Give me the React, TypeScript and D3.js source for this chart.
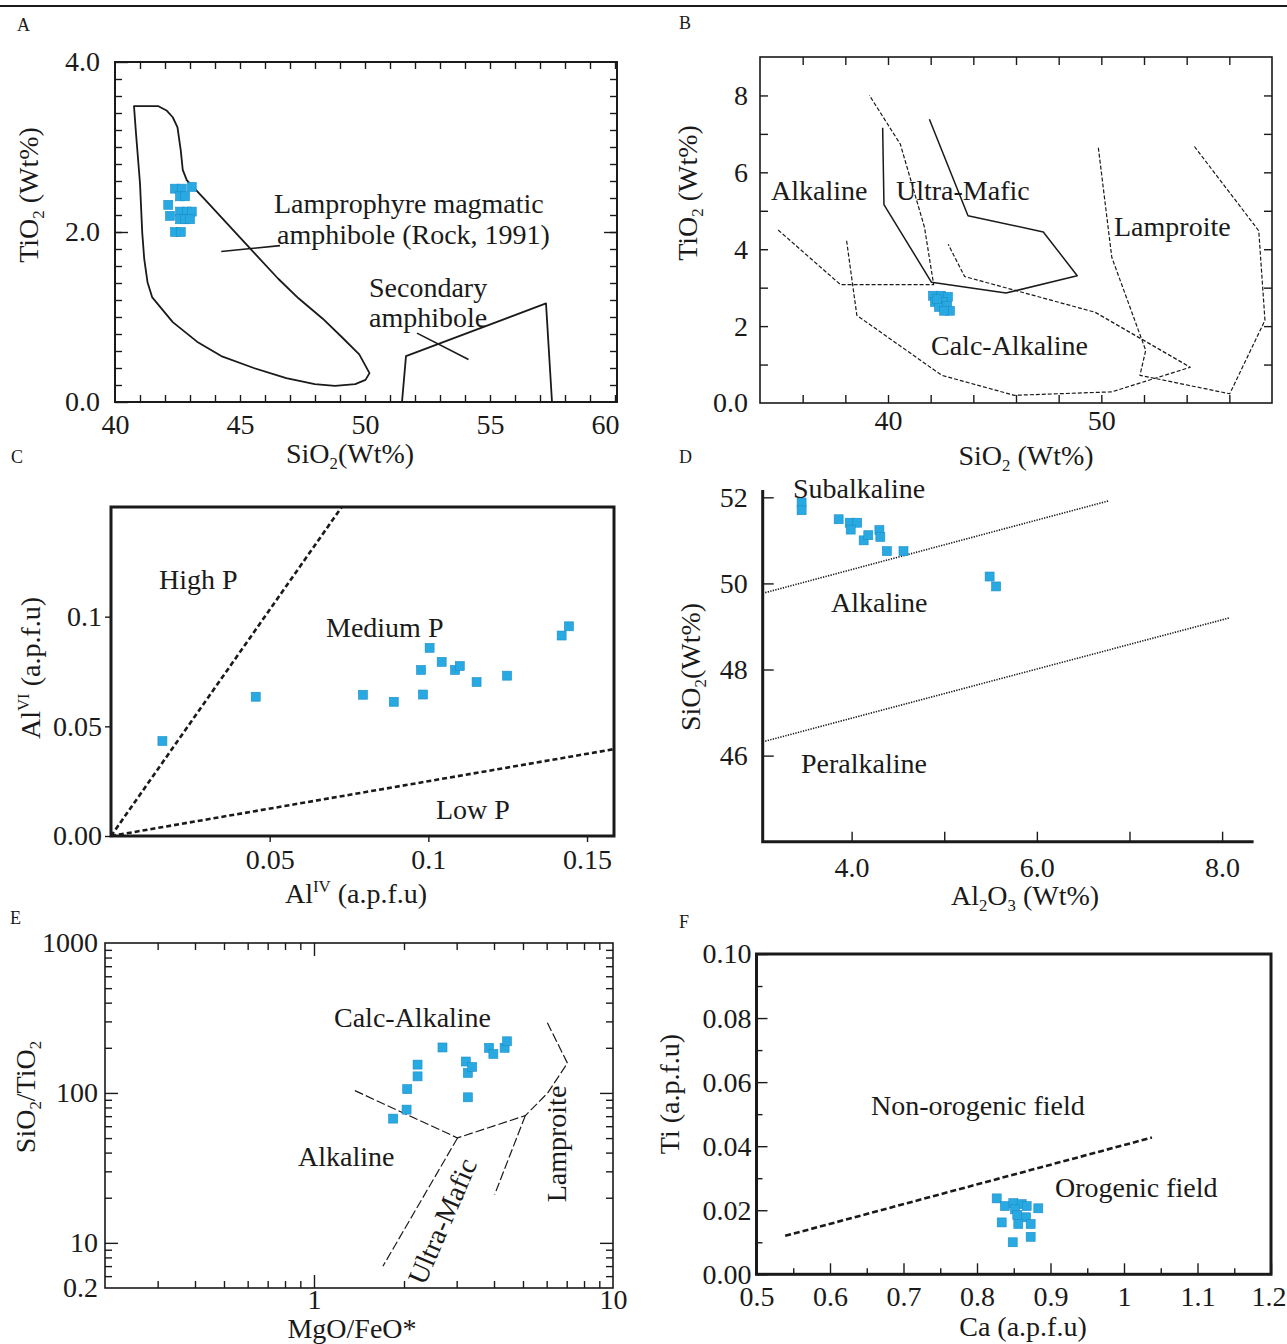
import React, { useEffect, useRef } from 'react';
import * as d3 from 'd3';

const FONT = '"Liberation Serif", "Times New Roman", Times, serif';
const INK = '#1a1a1a';
const BLUE = '#29a9e1';
const FS = 28;

// A: TiO2 vs SiO2
const aSiO2 = [42.4, 42.67, 43.07, 42.6, 42.8, 42.13, 42.2, 42.6, 42.87, 43.07, 42.6, 42.8, 43.0, 42.4, 42.63];
const aTiO2 = [2.51, 2.51, 2.53, 2.42, 2.42, 2.32, 2.19, 2.24, 2.24, 2.24, 2.15, 2.15, 2.15, 2.0, 2.0];
const aLamprophyreField = [
  [40.76, 3.48], [41.74, 3.48], [42.06, 3.43], [42.31, 3.35], [42.5, 3.23], [42.63, 2.96], [42.71, 2.73],
  [42.87, 2.61], [43.6, 2.38], [44.58, 2.07], [45.55, 1.76], [46.53, 1.45], [47.34, 1.22], [48.31, 0.98],
  [49.12, 0.75], [49.77, 0.56], [50.18, 0.34], [50.02, 0.26], [49.61, 0.21], [48.8, 0.19], [47.99, 0.21],
  [46.85, 0.28], [45.55, 0.4], [44.25, 0.54], [43.28, 0.71], [42.31, 0.94], [41.49, 1.23], [41.3, 1.41],
  [41.17, 1.68], [41.09, 1.99], [41.0, 2.57], [40.84, 3.16],
];
const aSecondaryField = [[51.48, 0], [51.64, 0.54], [57.24, 1.16], [57.48, 0]];
const aLamprophyreLeader = [[44.25, 1.77], [46.6, 1.84]];
const aSecondaryLeader = [[52.08, 0.81], [54.14, 0.5]];
const aXTicks = [40, 45, 50, 55, 60];
const aYTicks = [0, 2, 4];
const aYLabels = ['0.0', '2.0', '4.0'];

// B: TiO2 vs SiO2 lamprophyre type fields
const bSiO2 = [42.11, 42.49, 42.81, 42.2, 42.58, 42.39, 42.77, 42.9, 42.63, 42.3];
const bTiO2 = [2.79, 2.79, 2.76, 2.63, 2.63, 2.5, 2.53, 2.4, 2.4, 2.7];
const bUltraMafic = [[39.75, 7.16], [39.81, 5.16], [42.04, 3.14], [45.53, 2.86], [48.87, 3.31], [47.28, 4.45], [43.75, 4.87], [41.94, 7.38]];
const bAlkaline = [[34.85, 4.5], [37.77, 3.08], [42.14, 3.08], [41.71, 4.57], [40.58, 6.73], [39.13, 8.0]];
const bCalcAlkaline = [[38.06, 4.22], [38.54, 2.28], [42.52, 0.72], [45.92, 0.2], [50.49, 0.29], [54.17, 0.93], [49.71, 2.36], [43.59, 3.29], [42.82, 4.13]];
const bLamproite = [[49.86, 6.64], [50.49, 3.79], [52.08, 1.37], [51.81, 0.72], [56.02, 0.24], [57.67, 2.15], [57.38, 4.48], [54.31, 6.71]];
const bXTicks = [40, 50];
const bYTicks = [0, 2, 4, 6, 8];
const bYLabels = ['0.0', '2', '4', '6', '8'];

// C: AlVI vs AlIV
const cAlIV = [0.0162, 0.0456, 0.0794, 0.0891, 0.0977, 0.0983, 0.1004, 0.1042, 0.1084, 0.1099, 0.1152, 0.1248, 0.142, 0.1443];
const cAlVI = [0.0433, 0.0635, 0.0644, 0.0612, 0.0757, 0.0645, 0.0858, 0.0794, 0.0757, 0.0775, 0.0702, 0.0731, 0.0914, 0.0956];
const cHighMedium = [[0, 0], [0.0727, 0.15]];
const cMediumLow = [[0, 0], [0.1585, 0.0396]];
const cXTicks = [0.05, 0.1, 0.15];
const cXLabels = ['0.05', '0.1', '0.15'];
const cYTicks = [0, 0.05, 0.1];
const cYLabels = ['0.00', '0.05', '0.1'];

// D: SiO2 vs Al2O3
const dAl2O3 = [3.46, 3.46, 3.86, 3.98, 4.06, 3.99, 4.13, 4.18, 4.3, 4.31, 4.38, 4.56, 5.49, 5.56];
const dSiO2 = [51.88, 51.7, 51.49, 51.41, 51.41, 51.25, 51.0, 51.12, 51.24, 51.08, 50.75, 50.75, 50.16, 49.93];
const dSubalkaline = [[3.04, 49.77], [6.78, 51.92]];
const dPeralkaline = [[3.04, 46.32], [8.08, 49.2]];
const dXTicks = [4, 5, 6, 7, 8];
const dXLabelTicks = [4, 6, 8];
const dXLabels = ['4.0', '6.0', '8.0'];
const dYTicks = [46, 48, 50, 52];

// E: SiO2/TiO2 vs MgO/FeO*
const eMgOFeO = [1.84, 2.04, 2.05, 2.22, 2.22, 2.69, 3.22, 3.27, 3.38, 3.27, 3.85, 3.98, 4.34, 4.42];
const eSiO2TiO2 = [67.4, 77.4, 106, 129, 154.5, 201, 162, 136, 149, 93.5, 200, 182, 200, 221];
const eCalcAlkaline = [[1.37, 103.6], [3.02, 50.1], [5.09, 70.6], [6.05, 100], [7.04, 158], [6.02, 296]];
const eUltraLeft = [[3.02, 50.1], [1.7, 6.98]];
const eUltraRight = [[5.09, 70.6], [4.02, 21.0]];
const eYTicks = [5, 10, 100, 1000];
const eYLabels = ['0.2', '10', '100', '1000'];
const eXTicks = [1, 10];
const eXLabels = ['1', '10'];

// F: Ti vs Ca
const fCa = [0.8268, 0.838, 0.8494, 0.8608, 0.8676, 0.8517, 0.8834, 0.8336, 0.8548, 0.8667, 0.8562, 0.873, 0.873, 0.8486];
const fTi = [0.0237, 0.0213, 0.0222, 0.0219, 0.0213, 0.0203, 0.0206, 0.0162, 0.0185, 0.0178, 0.0157, 0.0157, 0.0117, 0.01];
const fBoundary = [[0.539, 0.012], [1.038, 0.0427]];
const fXTicks = [0.5, 0.6, 0.7, 0.8, 0.9, 1, 1.1, 1.2];
const fXLabels = ['0.5', '0.6', '0.7', '0.8', '0.9', '1', '1.1', '1.2'];
const fXMinor = [0.55, 0.65, 0.75, 0.85, 0.95, 1.05, 1.15];
const fYTicks = [0, 0.02, 0.04, 0.06, 0.08, 0.1];
const fYLabels = ['0.00', '0.02', '0.04', '0.06', '0.08', '0.10'];
const fYMinor = [0.01, 0.03, 0.05, 0.07, 0.09];

const logMinor = (lo: number, hi: number) => {
  const out: number[] = [];
  for (let p = -1; p <= 3; p++) for (let m = 2; m <= 9; m++) {
    const v = m * Math.pow(10, p);
    if (v > lo * 1.01 && v < hi * 0.99) out.push(v);
  }
  return out;
};

function addAxis(parent: any, gen: any, x: number, y: number) {
  const a = parent.append('g').attr('transform', `translate(${x},${y})`).call(gen);
  a.select('.domain').remove();
  a.attr('font-family', FONT).attr('font-size', FS);
  a.selectAll('line').attr('stroke', INK).attr('stroke-width', 1.4);
  a.selectAll('text').attr('fill', INK);
  return a;
}

function rich(parent: any, x: number, y: number, parts: any[], opt: any = {}) {
  const size = opt.size || FS;
  const t = parent.append('text')
    .attr('transform', `translate(${x},${y}) rotate(${opt.rotate || 0})`)
    .attr('text-anchor', opt.anchor || 'middle')
    .attr('font-family', FONT).attr('font-size', size).attr('fill', INK)
    .style('white-space', 'pre');
  if (opt.dy) t.attr('dy', opt.dy);
  let shift = 0;
  parts.forEach((p) => {
    const [s, kind] = typeof p === 'string' ? [p, ''] : p;
    const target = kind === 'sub' ? size * 0.22 : kind === 'sup' ? -size * 0.4 : 0;
    const ts = t.append('tspan').attr('dy', target - shift).text(s);
    if (kind) ts.attr('font-size', size * 0.6);
    shift = target;
  });
  return t;
}

function squares(parent: any, xs: number[], ys: number[], sx: any, sy: any, size = 9) {
  parent.append('g').selectAll('rect')
    .data(xs.map((x, i) => [x, ys[i]]))
    .join('rect')
    .attr('x', (d: number[]) => sx(d[0]) - size / 2)
    .attr('y', (d: number[]) => sy(d[1]) - size / 2)
    .attr('width', size).attr('height', size)
    .attr('fill', BLUE).attr('stroke', '#1c8ec8').attr('stroke-width', 0.6);
}

function path(parent: any, pts: number[][], sx: any, sy: any, width: number, dash: string | null, closed = false) {
  const line = d3.line<number[]>().x((d) => sx(d[0])).y((d) => sy(d[1]));
  const p = parent.append('path')
    .attr('d', line(pts) + (closed ? 'Z' : ''))
    .attr('fill', 'none').attr('stroke', INK).attr('stroke-width', width)
    .attr('stroke-linejoin', 'round');
  if (dash) p.attr('stroke-dasharray', dash);
}

function box(parent: any, sx: any, sy: any, width: number) {
  const [x0, x1] = sx.range();
  const [y0, y1] = sy.range();
  parent.append('rect')
    .attr('x', x0).attr('y', y1).attr('width', x1 - x0).attr('height', y0 - y1)
    .attr('fill', 'none').attr('stroke', INK).attr('stroke-width', width);
}

function panelLetter(parent: any, x: number, y: number, s: string) {
  parent.append('text').attr('x', x).attr('y', y).attr('font-family', FONT)
    .attr('font-size', 18).attr('fill', INK).text(s);
}

export default function App() {
  const ref = useRef<SVGSVGElement>(null);

  useEffect(() => {
    const svg = d3.select(ref.current);
    svg.selectAll('*').remove();
    svg.append('rect').attr('width', 1287).attr('height', 1344).attr('fill', '#fff');
    svg.append('line').attr('x1', 0).attr('x2', 1287).attr('y1', 6).attr('y2', 6)
      .attr('stroke', INK).attr('stroke-width', 2);

    // ---------- A ----------
    {
      const g = svg.append('g');
      const sx = d3.scaleLinear().domain([40, 60.08]).range([115, 617]);
      const sy = d3.scaleLinear().domain([0, 4]).range([402, 62]);
      const xMinor = d3.range(41, 61);
      const yMinor = d3.range(0.2, 4, 0.2);
      addAxis(g, d3.axisBottom(sx).tickValues(xMinor).tickSize(-7).tickFormat(() => ''), 0, 402);
      addAxis(g, d3.axisTop(sx).tickValues(xMinor).tickSize(-7).tickFormat(() => ''), 0, 62);
      addAxis(g, d3.axisLeft(sy).tickValues(yMinor).tickSize(-7).tickFormat(() => ''), 115, 0);
      addAxis(g, d3.axisRight(sy).tickValues(yMinor).tickSize(-7).tickFormat(() => ''), 617, 0);
      addAxis(g, d3.axisLeft(sy).tickValues(aYTicks).tickSize(-13).tickPadding(15)
        .tickFormat((d: any, i: number) => aYLabels[i]), 115, 0);
      addAxis(g, d3.axisRight(sy).tickValues([2]).tickSize(-13).tickFormat(() => ''), 617, 0);
      const xl = addAxis(g, d3.axisBottom(sx).tickValues(aXTicks).tickSize(0).tickPadding(12)
        .tickFormat((d: any) => String(d)), 0, 402);
      xl.selectAll('text').filter((d: any) => d === 60).attr('text-anchor', 'end').attr('dx', 4);
      box(g, sx, sy, 2);
      path(g, aLamprophyreField, sx, sy, 1.8, null, true);
      path(g, aSecondaryField, sx, sy, 1.8, null);
      path(g, aLamprophyreLeader, sx, sy, 1.6, null);
      path(g, aSecondaryLeader, sx, sy, 1.6, null);
      squares(g, aSiO2, aTiO2, sx, sy);
      rich(g, 274, 213, ['Lamprophyre magmatic'], { anchor: 'start' });
      rich(g, 277, 244, ['amphibole (Rock, 1991)'], { anchor: 'start' });
      rich(g, 369, 297, ['Secondary'], { anchor: 'start' });
      rich(g, 369, 327, ['amphibole'], { anchor: 'start' });
      rich(g, 38, 195, ['TiO', ['2', 'sub'], ' (Wt%)'], { rotate: -90, dy: '0.35em' });
      rich(g, 350, 463, ['SiO', ['2', 'sub'], '(Wt%)']);
      panelLetter(g, 17, 31, 'A');
    }

    // ---------- B ----------
    {
      const g = svg.append('g');
      const sx = d3.scaleLinear().domain([34, 58]).range([760, 1272]);
      const sy = d3.scaleLinear().domain([0, 9]).range([403, 57]);
      const xMinor = d3.range(36, 58, 2);
      const yMinor = d3.range(1, 9, 1);
      addAxis(g, d3.axisBottom(sx).tickValues(xMinor).tickSize(-8).tickFormat(() => ''), 0, 403);
      addAxis(g, d3.axisTop(sx).tickValues(xMinor).tickSize(-8).tickFormat(() => ''), 0, 57);
      addAxis(g, d3.axisLeft(sy).tickValues(yMinor).tickSize(-8).tickFormat(() => ''), 760, 0);
      addAxis(g, d3.axisRight(sy).tickValues(yMinor).tickSize(-8).tickFormat(() => ''), 1272, 0);
      addAxis(g, d3.axisLeft(sy).tickValues(bYTicks).tickSize(0).tickPadding(12)
        .tickFormat((d: any, i: number) => bYLabels[i]), 760, 0);
      addAxis(g, d3.axisBottom(sx).tickValues(bXTicks).tickSize(0).tickPadding(7)
        .tickFormat((d: any) => String(d)), 0, 403);
      box(g, sx, sy, 1.6);
      path(g, bUltraMafic, sx, sy, 1.5, null);
      path(g, bAlkaline, sx, sy, 1.2, '4,2');
      path(g, bCalcAlkaline, sx, sy, 1.2, '4,2');
      path(g, bLamproite, sx, sy, 1.2, '4,2');
      squares(g, bSiO2, bTiO2, sx, sy);
      rich(g, 771, 200, ['Alkaline'], { anchor: 'start' });
      rich(g, 896, 200, ['Ultra-Mafic'], { anchor: 'start' });
      rich(g, 1114, 236, ['Lamproite'], { anchor: 'start' });
      rich(g, 931, 355, ['Calc-Alkaline'], { anchor: 'start' });
      rich(g, 697, 193, ['TiO', ['2', 'sub'], ' (Wt%)'], { rotate: -90, dy: '0.35em' });
      rich(g, 1026, 465, ['SiO', ['2', 'sub'], ' (Wt%)']);
      panelLetter(g, 679, 29, 'B');
    }

    // ---------- C ----------
    {
      const g = svg.append('g');
      const sx = d3.scaleLinear().domain([0, 0.1585]).range([111, 614]);
      const sy = d3.scaleLinear().domain([0, 0.15]).range([836, 507]);
      addAxis(g, d3.axisBottom(sx).tickValues(cXTicks).tickSize(6).tickPadding(7)
        .tickFormat((d: any, i: number) => cXLabels[i]), 0, 836);
      addAxis(g, d3.axisLeft(sy).tickValues(cYTicks).tickSize(6).tickPadding(3)
        .tickFormat((d: any, i: number) => cYLabels[i]), 111, 0);
      path(g, cHighMedium, sx, sy, 2.6, '5,3');
      path(g, cMediumLow, sx, sy, 2.6, '5,3');
      box(g, sx, sy, 3);
      squares(g, cAlIV, cAlVI, sx, sy);
      rich(g, 159, 589, ['High P'], { anchor: 'start' });
      rich(g, 326, 637, ['Medium P'], { anchor: 'start' });
      rich(g, 436, 819, ['Low P'], { anchor: 'start' });
      rich(g, 40, 668, ['Al', ['VI', 'sup'], ' (a.p.f.u)'], { rotate: -90, dy: '0.35em' });
      rich(g, 356, 903, ['Al', ['IV', 'sup'], ' (a.p.f.u)']);
      panelLetter(g, 11, 463, 'C');
    }

    // ---------- D ----------
    {
      const g = svg.append('g');
      const sx = d3.scaleLinear().domain([3.04, 8.34]).range([762.7, 1253.6]);
      const sy = d3.scaleLinear().domain([44, 52.17]).range([841.7, 490]);
      addAxis(g, d3.axisLeft(sy).tickValues(dYTicks).tickSize(-11).tickPadding(15)
        .tickFormat((d: any) => String(d)), 762.7, 0);
      addAxis(g, d3.axisBottom(sx).tickValues(dXTicks).tickSize(-10).tickFormat(() => ''), 0, 841.7);
      addAxis(g, d3.axisBottom(sx).tickValues(dXLabelTicks).tickSize(0).tickPadding(15)
        .tickFormat((d: any, i: number) => dXLabels[i]), 0, 841.7);
      const [x0, x1] = sx.range();
      const [y0, y1] = sy.range();
      g.append('path').attr('d', `M${x0},${y1}V${y0}H${x1}`).attr('fill', 'none')
        .attr('stroke', INK).attr('stroke-width', 3);
      path(g, dSubalkaline, sx, sy, 1.6, '1.3,1.3');
      path(g, dPeralkaline, sx, sy, 1.6, '1.3,1.3');
      squares(g, dAl2O3, dSiO2, sx, sy);
      rich(g, 793, 498, ['Subalkaline'], { anchor: 'start' });
      rich(g, 831, 612, ['Alkaline'], { anchor: 'start' });
      rich(g, 801, 773, ['Peralkaline'], { anchor: 'start' });
      rich(g, 700, 667, ['SiO', ['2', 'sub'], '(Wt%)'], { rotate: -90, dy: '0.35em' });
      rich(g, 1025, 905, ['Al', ['2', 'sub'], 'O', ['3', 'sub'], ' (Wt%)']);
      panelLetter(g, 679, 463, 'D');
    }

    // ---------- E ----------
    {
      const g = svg.append('g');
      const sx = d3.scaleLog().domain([0.2, 10]).range([105, 613]);
      const sy = d3.scaleLog().domain([5, 1000]).range([1288, 943]);
      const xMinor = logMinor(0.2, 10);
      const yMinor = logMinor(5, 1000);
      addAxis(g, d3.axisBottom(sx).tickValues(xMinor).tickSize(-7).tickFormat(() => ''), 0, 1288);
      addAxis(g, d3.axisTop(sx).tickValues(xMinor).tickSize(-7).tickFormat(() => ''), 0, 943);
      addAxis(g, d3.axisBottom(sx).tickValues([1]).tickSize(-13).tickFormat(() => ''), 0, 1288);
      addAxis(g, d3.axisTop(sx).tickValues([1]).tickSize(-13).tickFormat(() => ''), 0, 943);
      addAxis(g, d3.axisLeft(sy).tickValues(yMinor).tickSize(-7).tickFormat(() => ''), 105, 0);
      addAxis(g, d3.axisRight(sy).tickValues(yMinor).tickSize(-7).tickFormat(() => ''), 613, 0);
      addAxis(g, d3.axisLeft(sy).tickValues([10, 100]).tickSize(-13).tickFormat(() => ''), 105, 0);
      addAxis(g, d3.axisRight(sy).tickValues([10, 100]).tickSize(-13).tickFormat(() => ''), 613, 0);
      addAxis(g, d3.axisLeft(sy).tickValues(eYTicks).tickSize(0).tickPadding(7)
        .tickFormat((d: any, i: number) => eYLabels[i]), 105, 0);
      addAxis(g, d3.axisBottom(sx).tickValues(eXTicks).tickSize(0).tickPadding(1)
        .tickFormat((d: any, i: number) => eXLabels[i]), 0, 1288);
      box(g, sx, sy, 1.6);
      path(g, eCalcAlkaline, sx, sy, 1.2, '9,3');
      path(g, eUltraLeft, sx, sy, 1.2, '9,3');
      path(g, eUltraRight, sx, sy, 1.2, '9,3');
      squares(g, eMgOFeO, eSiO2TiO2, sx, sy);
      rich(g, 334, 1027, ['Calc-Alkaline'], { anchor: 'start' });
      rich(g, 298, 1166, ['Alkaline'], { anchor: 'start' });
      rich(g, 451, 1225, ['Ultra-Mafic'], { rotate: -66.6, dy: '0.35em' });
      rich(g, 566, 1144, ['Lamproite'], { rotate: -90, dy: '0.35em' });
      rich(g, 35, 1097, ['SiO', ['2', 'sub'], '/TiO', ['2', 'sub']], { rotate: -90, dy: '0.35em' });
      rich(g, 352, 1338, ['MgO/FeO*']);
      panelLetter(g, 10, 924, 'E');
    }

    // ---------- F ----------
    {
      const g = svg.append('g');
      const sx = d3.scaleLinear().domain([0.5, 1.2]).range([756.5, 1271]);
      const sy = d3.scaleLinear().domain([0, 0.1]).range([1274.3, 954]);
      addAxis(g, d3.axisBottom(sx).tickValues(fXMinor).tickSize(-6).tickFormat(() => ''), 0, 1274.3);
      addAxis(g, d3.axisLeft(sy).tickValues(fYMinor).tickSize(-6).tickFormat(() => ''), 756.5, 0);
      const xl = addAxis(g, d3.axisBottom(sx).tickValues(fXTicks).tickSize(-11).tickPadding(12)
        .tickFormat((d: any, i: number) => fXLabels[i]), 0, 1274.3);
      xl.selectAll('text').filter((d: any) => d === 1.2).attr('text-anchor', 'end').attr('dx', 15);
      addAxis(g, d3.axisLeft(sy).tickValues(fYTicks).tickSize(-11).tickPadding(5)
        .tickFormat((d: any, i: number) => fYLabels[i]), 756.5, 0);
      box(g, sx, sy, 3);
      path(g, fBoundary, sx, sy, 2.6, '6,3');
      squares(g, fCa, fTi, sx, sy);
      rich(g, 871, 1115, ['Non-orogenic field'], { anchor: 'start' });
      rich(g, 1055, 1197, ['Orogenic field'], { anchor: 'start' });
      rich(g, 679, 1094, ['Ti (a.p.f.u)'], { rotate: -90, dy: '0.35em' });
      rich(g, 1023, 1336, ['Ca (a.p.f.u)']);
      panelLetter(g, 679, 928, 'F');
    }
  }, []);

  return (
    <svg
      ref={ref}
      width={1287}
      height={1344}
      style={{ position: 'absolute', left: 0, top: 0, display: 'block' }}
    />
  );
}
